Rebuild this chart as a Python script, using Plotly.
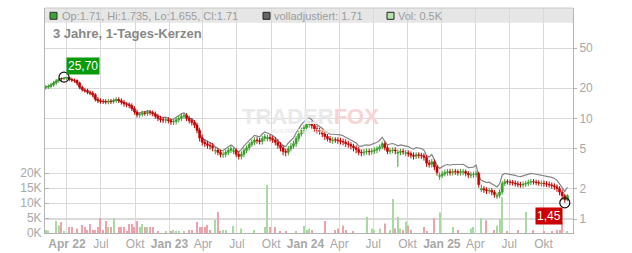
import math
import pandas as pd
import plotly.graph_objects as go

# ---------------- data (weekly candles) ----------------
start_date = "2022-02-03"

opens = [
    20.2, 20.5, 20.8, 21.5, 22.5, 23.6, 24.9, 24.8, 25.2, 25.5,
    24.5, 24.0, 23.8, 22.5, 20.4, 19.2, 18.9, 18.2, 17.9, 17.2,
    15.5, 15.0, 14.8, 14.7, 14.5, 14.8, 14.7, 15.0, 15.4, 15.0,
    14.5, 13.8, 13.7, 13.4, 12.5, 11.6, 10.8, 11.0, 11.3, 11.2,
    11.5, 11.4, 11.1, 10.5, 10.0, 9.7, 9.6, 9.7, 9.5, 9.2,
    9.3, 9.7, 10.0, 10.5, 10.7, 10.0, 9.5, 9.1, 8.6, 7.6,
    6.4, 5.8, 5.6, 5.4, 5.3, 4.75, 4.8, 4.6, 4.35, 4.4,
    4.6, 4.8, 4.7, 4.8, 4.4, 4.2, 4.4, 4.8, 5.1, 5.5,
    5.8, 6.1, 6.0, 5.9, 6.3, 6.3, 6.45, 6.3, 6.1, 5.8,
    5.4, 5.1, 4.7, 4.6, 5.0, 5.3, 5.6, 6.3, 7.0, 7.6,
    8.1, 8.7, 8.9, 8.5, 7.9, 7.6, 7.4, 7.0, 6.6, 6.3,
    6.0, 6.15, 6.1, 6.0, 5.9, 5.8, 5.6, 5.5, 5.3, 5.1,
    4.9, 4.6, 4.55, 4.65, 4.7, 4.65, 4.75, 4.85, 5.0, 5.2,
    5.6, 5.1, 4.7, 4.8, 4.85, 4.5, 4.6, 4.7, 4.5, 4.55,
    4.45, 4.3, 4.2, 4.35, 4.3, 4.25, 4.1, 3.6, 3.5, 3.7,
    3.3, 2.65, 2.7, 2.8, 2.9, 2.95, 2.9, 2.97, 2.95, 2.9,
    2.92, 2.96, 2.85, 2.72, 2.76, 2.78, 2.84, 1.95, 2.0, 1.95,
    1.9, 1.92, 1.85, 1.68, 1.72, 1.85, 2.25, 2.35, 2.33, 2.31,
    2.28, 2.24, 2.2, 2.18, 2.22, 2.26, 2.32, 2.35, 2.33, 2.3,
    2.24, 2.27, 2.24, 2.22, 2.18, 2.14, 2.09, 2.0, 1.85, 1.7,
    1.55]

highs = [
    21.4, 21.8, 22.6, 23.6, 24.6, 25.1, 25.4, 25.7, 25.6, 25.6,
    25.3, 24.9, 24.4, 23.2, 21.2, 20.1, 19.7, 19.0, 18.7, 17.8,
    16.3, 15.8, 15.6, 15.5, 15.6, 15.6, 15.8, 16.2, 16.2, 15.8,
    15.2, 14.5, 14.4, 14.1, 13.2, 12.2, 11.6, 11.9, 11.9, 12.1,
    12.1, 12.0, 11.7, 11.1, 10.6, 10.3, 10.3, 10.3, 10.0, 9.9,
    10.3, 10.6, 11.1, 11.4, 11.3, 10.6, 10.1, 9.6, 9.1, 8.1,
    6.9, 6.2, 6.0, 5.8, 5.7, 5.2, 5.1, 4.9, 4.7, 4.9,
    5.1, 5.3, 5.1, 5.1, 4.7, 4.7, 5.1, 5.4, 5.8, 6.2,
    6.5, 6.5, 6.4, 6.7, 7.0, 6.9, 6.9, 6.7, 6.5, 6.2,
    5.8, 5.4, 5.0, 5.3, 5.7, 6.0, 6.7, 7.5, 8.1, 8.6,
    9.2, 9.4, 9.4, 9.0, 8.4, 8.1, 7.9, 7.4, 7.0, 6.7,
    6.5, 6.5, 6.5, 6.4, 6.3, 6.2, 6.0, 5.8, 5.6, 5.4,
    5.2, 4.9, 4.95, 5.0, 5.0, 5.05, 5.15, 5.3, 5.5, 5.9,
    5.9, 5.4, 5.1, 5.15, 5.15, 4.9, 5.0, 5.0, 4.85, 4.8,
    4.7, 4.6, 4.6, 4.6, 4.55, 4.5, 4.3, 3.85, 3.95, 3.9,
    3.45, 2.9, 3.0, 3.1, 3.15, 3.15, 3.15, 3.15, 3.1, 3.15,
    3.15, 3.1, 3.0, 2.95, 2.95, 3.0, 2.95, 2.2, 2.12, 2.07,
    2.05, 2.03, 1.95, 1.83, 1.97, 2.38, 2.5, 2.48, 2.46, 2.44,
    2.42, 2.38, 2.34, 2.36, 2.4, 2.46, 2.5, 2.49, 2.46, 2.43,
    2.41, 2.41, 2.38, 2.36, 2.31, 2.27, 2.21, 2.12, 1.96, 1.78,
    1.76]

lows = [
    19.3, 19.6, 19.9, 20.6, 21.5, 22.6, 23.6, 23.9, 24.2, 23.4,
    22.9, 22.6, 21.3, 19.5, 18.5, 18.0, 17.4, 17.0, 16.3, 14.7,
    14.2, 14.0, 13.9, 13.8, 13.8, 13.9, 14.0, 14.3, 14.2, 13.7,
    13.1, 12.9, 12.6, 11.8, 10.9, 10.2, 10.2, 10.4, 10.6, 10.6,
    10.8, 10.5, 9.9, 9.4, 9.1, 9.0, 9.0, 8.9, 8.6, 8.6,
    8.7, 9.1, 9.4, 9.9, 9.4, 8.9, 8.5, 8.0, 7.1, 5.9,
    5.4, 5.2, 5.0, 4.9, 4.7, 4.4, 4.3, 4.1, 4.05, 4.1,
    4.3, 4.5, 4.4, 4.1, 3.9, 3.9, 4.1, 4.5, 4.8, 5.2,
    5.4, 5.6, 5.5, 5.5, 5.9, 5.9, 5.9, 5.7, 5.4, 5.0,
    4.7, 4.3, 4.2, 4.3, 4.7, 5.0, 5.2, 5.9, 6.6, 7.1,
    7.6, 8.1, 7.9, 7.4, 7.1, 6.9, 6.5, 6.1, 5.9, 5.7,
    5.6, 5.7, 5.6, 5.5, 5.4, 5.2, 5.1, 4.9, 4.7, 4.5,
    4.3, 4.2, 4.25, 4.35, 4.3, 4.35, 4.45, 4.5, 4.7, 4.9,
    4.8, 4.4, 4.4, 4.5, 4.4, 3.3, 4.3, 4.35, 4.2, 4.15,
    4.0, 3.9, 3.95, 4.0, 3.95, 3.8, 3.3, 3.25, 3.25, 3.05,
    2.7, 2.45, 2.55, 2.65, 2.7, 2.7, 2.7, 2.75, 2.7, 2.7,
    2.72, 2.65, 2.55, 2.55, 2.57, 2.6, 2.05, 1.85, 1.82, 1.77,
    1.78, 1.72, 1.63, 1.58, 1.62, 1.75, 2.12, 2.2, 2.17, 2.15,
    2.1, 2.07, 2.05, 2.05, 2.09, 2.12, 2.18, 2.2, 2.17, 2.14,
    2.1, 2.1, 2.08, 2.05, 2.0, 1.95, 1.86, 1.72, 1.57, 1.45,
    1.5]

closes = [
    20.5, 20.8, 21.5, 22.5, 23.6, 24.3, 24.8, 25.2, 25.5, 24.5,
    24.0, 23.8, 22.5, 20.4, 19.4, 18.9, 18.3, 17.9, 17.2, 15.5,
    15.0, 14.8, 14.7, 14.6, 14.8, 14.7, 15.0, 15.4, 15.0, 14.5,
    13.9, 13.7, 13.4, 12.5, 11.6, 10.8, 11.0, 11.3, 11.2, 11.5,
    11.4, 11.1, 10.5, 10.0, 9.7, 9.6, 9.7, 9.5, 9.2, 9.3,
    9.7, 10.0, 10.5, 10.7, 10.0, 9.5, 9.1, 8.6, 7.6, 6.4,
    5.8, 5.6, 5.4, 5.3, 5.1, 4.8, 4.6, 4.4, 4.4, 4.6,
    4.8, 5.0, 4.8, 4.4, 4.2, 4.4, 4.8, 5.1, 5.5, 5.8,
    6.1, 6.0, 5.9, 6.3, 6.6, 6.45, 6.3, 6.1, 5.8, 5.4,
    5.1, 4.7, 4.6, 5.0, 5.3, 5.6, 6.3, 7.0, 7.6, 8.1,
    8.7, 8.9, 8.5, 7.9, 7.6, 7.4, 7.0, 6.6, 6.3, 6.1,
    6.1, 6.1, 6.0, 5.9, 5.8, 5.6, 5.5, 5.3, 5.1, 4.9,
    4.6, 4.55, 4.65, 4.7, 4.65, 4.75, 4.85, 5.0, 5.2, 5.6,
    5.1, 4.7, 4.8, 4.85, 4.75, 4.6, 4.7, 4.65, 4.55, 4.45,
    4.3, 4.2, 4.35, 4.3, 4.25, 4.1, 3.6, 3.5, 3.7, 3.3,
    2.9, 2.7, 2.8, 2.9, 2.95, 2.9, 2.95, 2.95, 2.9, 2.95,
    2.96, 2.85, 2.75, 2.76, 2.78, 2.84, 2.2, 2.0, 1.95, 1.9,
    1.92, 1.85, 1.75, 1.72, 1.85, 2.25, 2.35, 2.33, 2.31, 2.28,
    2.24, 2.2, 2.18, 2.22, 2.26, 2.32, 2.35, 2.33, 2.3, 2.27,
    2.27, 2.24, 2.22, 2.18, 2.14, 2.09, 2.0, 1.85, 1.7, 1.55,
    1.71]

volumes_k = [
    1.0, 0.8, 0, 0, 4.0, 2.5, 3.7, 0.5, 0, 2.0,
    2.0, 0, 1.5, 0, 2.7, 2.0, 1.0, 3.0, 1.0, 1.0,
    2.0, 5.0, 1.0, 4.0, 2.0, 2.0, 5.0, 0, 2.0, 2.0,
    2.0, 0.5, 3.0, 3.0, 2.0, 4.0, 2.0, 3.0, 2.0, 2.0,
    2.0, 2.0, 0, 0.5, 0, 0, 0.5, 0, 0.5, 1.0,
    0.5, 0.5, 0, 0.5, 0, 1.0, 1.0, 0, 3.7, 2.0,
    2.0, 2.0, 2.7, 1.0, 0, 4.3, 7.0, 0.5, 1.0, 1.0,
    0, 0, 2.3, 0, 0, 1.5, 0, 0, 0, 0,
    1.0, 0, 0, 0, 2.0, 16.0, 2.0, 0, 2.0, 0,
    0.5, 0, 0.5, 0, 0, 0, 0.5, 0, 0, 2.3,
    1.0, 1.5, 1.0, 0, 0, 0, 0, 4.0, 0, 0,
    0, 1.0, 1.5, 0, 2.5, 1.0, 0, 0, 0.5, 0,
    0, 0, 0, 5.3, 0, 1.5, 1.0, 0, 1.5, 0,
    3.2, 0, 1.0, 11.3, 1.5, 5.3, 1.5, 1.0, 3.8, 2.5,
    1.0, 0, 0, 0, 0, 2.0, 0.5, 0, 0, 5.0,
    0, 6.8, 0, 0, 0, 0, 2.0, 0, 1.0, 0,
    0, 0, 0, 1.5, 2.0, 0, 0, 5.0, 0, 4.2,
    0, 0, 1.0, 2.5, 4.7, 12.0, 0, 0.5, 0, 0,
    0, 1.0, 0, 0, 7.0, 0, 0, 1.0, 0, 0,
    0, 0.5, 0, 0, 0.5, 0, 1.0, 1.0, 3.4, 0,
    0.5]

# adjustment factors of the "volladjustiert" line (step changes)
adj_dates = ["2022-01-01", "2022-09-01", "2022-12-01", "2023-03-01", "2023-07-01",
             "2023-11-01", "2024-04-01", "2024-10-01", "2025-04-01"]
adj_factors = [1.00, 1.03, 1.06, 1.09, 1.11, 1.14, 1.16, 1.18, 1.21]

x_tick_dates = ["2022-04-01", "2022-07-01", "2022-10-01", "2023-01-01", "2023-04-01",
                "2023-07-01", "2023-10-01", "2024-01-01", "2024-04-01", "2024-07-01",
                "2024-10-01", "2025-01-01", "2025-04-01", "2025-07-01", "2025-10-01"]
x_tick_labels = ["Apr 22", "Jul", "Okt", "Jan 23", "Apr", "Jul", "Okt", "Jan 24",
                 "Apr", "Jul", "Okt", "Jan 25", "Apr", "Jul", "Okt"]

price_ticks = [1, 2, 5, 10, 20, 50]
vol_ticks = [0, 5, 10, 15, 20]

last_open, last_high, last_low, last_close = 1.71, 1.735, 1.655, 1.71
last_adjusted = 1.71
last_volume = "0.5K"

n = len(closes)
assert len(opens) == n and len(highs) == n and len(lows) == n and len(volumes_k) == n, \
    (len(opens), len(highs), len(lows), len(closes), len(volumes_k))

dates = pd.date_range(start_date, periods=n, freq="7D")

adj_ts = pd.to_datetime(adj_dates)
adjusted = []
for d, c in zip(dates, closes):
    f = adj_factors[0]
    for ad, af in zip(adj_ts, adj_factors):
        if d >= ad:
            f = af
    adjusted.append(c * f)

GREEN = "#3a9e2b"
RED = "#c40000"
up = [c > o for o, c in zip(opens, closes)]
vol_colors = ["#a8dba1" if u else "#f0a1aa" for u in up]

FONT = "Arial, 'Liberation Sans', sans-serif"
DAY = 86400000

fig = go.Figure()
fig.add_trace(go.Bar(x=dates, y=volumes_k, marker=dict(color=vol_colors, line=dict(width=0)),
                     width=3 * DAY, yaxis="y", hoverinfo="skip"))
fig.add_trace(go.Scatter(x=dates, y=adjusted, mode="lines", line=dict(color="#858585", width=1.2),
                         yaxis="y2", hoverinfo="skip"))

# candle wicks (one line trace per colour, broken by None)
for flag, col in ((True, GREEN), (False, RED)):
    wx, wy = [], []
    for d, h, l, u in zip(dates, highs, lows, up):
        if u == flag:
            wx += [d, d, None]
            wy += [l, h, None]
    fig.add_trace(go.Scatter(x=wx, y=wy, mode="lines", line=dict(color=col, width=1),
                             yaxis="y3", hoverinfo="skip", connectgaps=False))

# candle bodies
fig.add_trace(go.Bar(x=dates, base=[min(o, c) for o, c in zip(opens, closes)],
                     y=[abs(c - o) for o, c in zip(opens, closes)],
                     width=5.5 * DAY, yaxis="y3", hoverinfo="skip",
                     marker=dict(color=[GREEN if u else RED for u in up],
                                 line=dict(color=[GREEN if u else RED for u in up], width=0.6))))

# extreme markers
i_max = max(range(n), key=lambda i: highs[i])
i_min = min(range(n), key=lambda i: lows[i])
fig.add_trace(go.Scatter(x=[dates[i_max], dates[i_min]], y=[highs[i_max], lows[i_min]],
                         mode="markers", yaxis="y3", hoverinfo="skip",
                         marker=dict(symbol="circle-open", size=10, color="#111",
                                     line=dict(width=1.2, color="#111"))))


def fmt(v):
    return f"{v:.2f}".replace(".", ",")


annotations = [
    dict(x=dates[i_max], y=math.log10(highs[i_max]), xref="x", yref="y3", text=fmt(highs[i_max]),
         showarrow=False, xanchor="left", yanchor="bottom", xshift=2, yshift=2,
         bgcolor="#0a9a0a", font=dict(color="white", size=12, family=FONT), borderpad=1),
    dict(x=dates[i_min], y=math.log10(lows[i_min]), xref="x", yref="y3", text=fmt(lows[i_min]),
         showarrow=False, xanchor="right", yanchor="top", xshift=-2, yshift=-4,
         bgcolor="#cc0000", font=dict(color="white", size=12, family=FONT), borderpad=1),
]

W = 632 - 45 - 59
H = 253 - 8 - 20


def px(x):
    return (x - 45) / W


def py(y):
    return (233 - y) / H


shapes = [
    dict(type="rect", xref="paper", yref="paper", x0=0, x1=1, y0=py(22.7), y1=1,
         fillcolor="#e6e6e6", line=dict(width=0), layer="below"),
    dict(type="rect", xref="paper", yref="paper", x0=px(50), x1=px(57), y0=py(19.3), y1=py(12.3),
         fillcolor="#3ca433", line=dict(color="#333", width=1)),
    dict(type="rect", xref="paper", yref="paper", x0=px(263), x1=px(270), y0=py(19.3), y1=py(12.3),
         fillcolor="#666666", line=dict(color="#222", width=1)),
    dict(type="rect", xref="paper", yref="paper", x0=px(387), x1=px(394), y0=py(19.3), y1=py(12.3),
         fillcolor="#b5e3ad", line=dict(color="#222", width=1)),
    dict(type="line", xref="paper", yref="paper", x0=0, x1=1, y0=1, y1=1,
         line=dict(color="#c8c8c8", width=1)),
]

hdr = dict(size=11, color="#9c9c9c", family=FONT)
annotations += [
    dict(x=px(60), y=py(15.8), xref="paper", yref="paper", showarrow=False, xanchor="left",
         yanchor="middle", font=hdr,
         text=f"Op:{last_open}, Hi:{last_high}, Lo:{last_low}, Cl:{last_close}"),
    dict(x=px(272), y=py(15.8), xref="paper", yref="paper", showarrow=False, xanchor="left",
         yanchor="middle", font=hdr, text=f"volladjustiert: {last_adjusted}"),
    dict(x=px(396), y=py(15.8), xref="paper", yref="paper", showarrow=False, xanchor="left",
         yanchor="middle", font=hdr, text=f"Vol: {last_volume}"),
    dict(x=px(51), y=py(33), xref="paper", yref="paper", showarrow=False, xanchor="left",
         yanchor="middle", font=dict(size=13, color="#888888", family=FONT),
         text="<b>3 Jahre, 1-Tages-Kerzen</b>"),
    dict(x=px(310), y=py(116), xref="paper", yref="paper", showarrow=False,
         xanchor="center", yanchor="middle", font=dict(size=22, color="#e9e9e9", family=FONT),
         text="<b>TRADER<span style='color:#f7d3d3'>FOX</span></b>"),
    dict(x=px(305), y=py(131), xref="paper", yref="paper", showarrow=False,
         xanchor="center", yanchor="middle", font=dict(size=5, color="#ececec", family=FONT),
         text="<b>REALTIME STOCK TRADING</b>"),
]

tick_text = [f"<b>{t}</b>" if " " in t else t for t in x_tick_labels]

GRID = "#dadada"
AXL = "#b4b4b4"
TICKF = dict(size=12, color="#a8a8a8", family=FONT)
log_range = [-0.139, 2.097]

fig.update_layout(
    width=632, height=253, margin=dict(l=45, r=59, t=8, b=20, autoexpand=False),
    paper_bgcolor="white", plot_bgcolor="white", showlegend=False,
    font=dict(family=FONT, size=12, color="#a8a8a8"),
    shapes=shapes, annotations=annotations,
    xaxis=dict(type="date", range=["2022-02-01", "2025-12-19"], tickvals=x_tick_dates,
               ticktext=tick_text, showgrid=True, gridcolor=GRID, gridwidth=1,
               showline=True, linecolor=AXL, linewidth=1, ticks="", tickfont=TICKF,
               zeroline=False, fixedrange=True, automargin=False),
    yaxis=dict(range=[0, 75], tickvals=vol_ticks, ticktext=[f"{v}K" for v in vol_ticks],
               side="left", showgrid=True, gridcolor=GRID, showline=True, linecolor=AXL,
               ticks="inside", ticklen=4, tickcolor=AXL, tickfont=TICKF, zeroline=False,
               automargin=False),
    yaxis2=dict(type="log", range=log_range, overlaying="y", side="right",
                tickvals=price_ticks, ticktext=[str(v) for v in price_ticks],
                showgrid=True, gridcolor=GRID, showline=True, linecolor=AXL,
                ticks="outside", ticklen=3, tickcolor=AXL, tickfont=TICKF, zeroline=False,
                automargin=False),
    yaxis3=dict(type="log", range=log_range, overlaying="y", visible=False, automargin=False),
)

fig.write_html("out.html")
